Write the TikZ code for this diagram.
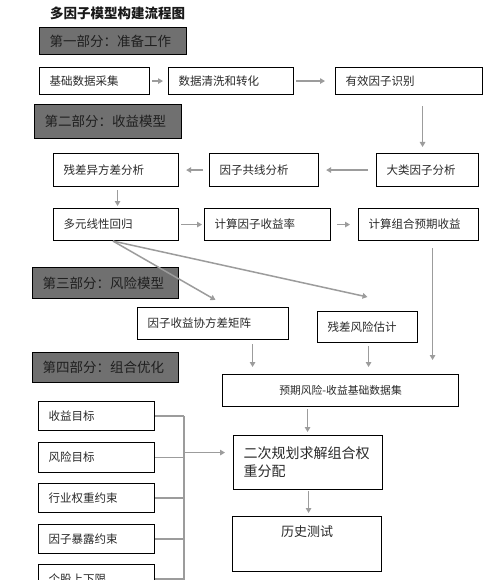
\documentclass[tikz,border=0pt]{standalone}
\usepackage{fontspec}
\newfontfamily\cjk{Noto Sans CJK SC}
\usetikzlibrary{arrows.meta,calc}
\definecolor{hdrfill}{HTML}{707070}
\definecolor{txt}{HTML}{2A2A2A}
\definecolor{arrgray}{HTML}{9C9C9C}
\newcommand\mybox[7]{%
  \pgfmathsetmacro\bw{#5-#3}\pgfmathsetmacro\bh{#6-#4}\pgfmathsetmacro\tw{#5-#3-20}%
  \node[#1, minimum width=\bw pt, minimum height=\bh pt, text width=\tw pt] (#2) at (#3,#4) {#7};}
\begin{document}
\begin{tikzpicture}[x=1pt,y=-1pt,
  base/.style={draw=black, line width=1.1pt, inner xsep=10pt, inner ysep=0pt, align=left, text=txt, anchor=north west},
  wbox/.style={base, fill=white, font=\cjk\fontsize{11.5}{14}\selectfont},
  hbox/.style={base, fill=hdrfill, text=black!88, font=\cjk\fontsize{13.5}{16}\selectfont},
  arr/.style={draw=arrgray, line width=1.5pt, -{Triangle[length=5pt,width=5.5pt]}},
  gline/.style={draw=arrgray, line width=1.2pt}]
\useasboundingbox (0,0) rectangle (500,580);
\clip (0,0) rectangle (500,580);
\fill[white] (0,0) rectangle (500,580);

\node[font=\cjk\bfseries\fontsize{13.5}{15}\selectfont, text=black!90, anchor=west, inner sep=0pt] (title) at (50,13) {多因子模型构建流程图};

\mybox{hbox}{s1}{39}{27}{186}{54}{第一部分：准备工作}
\mybox{wbox}{a1}{39}{67}{149}{94}{基础数据采集}
\mybox{wbox}{a2}{168}{67}{293}{94}{数据清洗和转化}
\mybox{wbox}{a3}{335}{67}{482}{94}{有效因子识别}

\mybox{hbox}{s2}{34}{104}{181}{138}{第二部分：收益模型}
\mybox{wbox}{b1}{53}{153}{178}{186}{残差异方差分析}
\mybox{wbox}{b2}{209}{153}{318}{186}{因子共线分析}
\mybox{wbox}{b3}{376}{153}{478}{186}{大类因子分析}
\mybox{wbox}{c1}{53}{208}{178}{240}{多元线性回归}
\mybox{wbox}{c2}{204}{208}{330}{240}{计算因子收益率}
\mybox{wbox}{c3}{358}{208}{478}{240}{计算组合预期收益}

\mybox{hbox}{s3}{32}{267}{178}{298}{第三部分：风险模型}
\mybox{wbox}{d1}{137}{307}{288}{339}{因子收益协方差矩阵}
\mybox{wbox}{d2}{317}{311}{417}{342}{残差风险估计}
\mybox{wbox,align=center,font=\cjk\fontsize{10.8}{13}\selectfont}{e}{222}{374}{458}{406}{预期风险-收益基础数据集}

\mybox{hbox}{s4}{32}{352}{178}{382}{第四部分：组合优化}
\mybox{wbox}{h1}{38}{401}{154}{430}{收益目标}
\mybox{wbox}{h2}{38}{442}{154}{472}{风险目标}
\mybox{wbox}{h3}{38}{483}{154}{512}{行业权重约束}
\mybox{wbox}{h4}{38}{524}{154}{553}{因子暴露约束}
\mybox{wbox}{h5}{38}{564}{154}{593}{个股上下限}

\mybox{wbox,font=\cjk\fontsize{14}{18}\selectfont}{f}{233}{435}{382}{489}{二次规划求解组合权\\重分配}
\mybox{wbox,align=center,inner ysep=8pt,text height=12pt,text depth=27pt,font=\cjk\fontsize{13}{16}\selectfont}{g}{232}{516}{381}{571}{历史测试}

% arrows
\draw[arr, shorten <=2pt, shorten >=5pt] (a1.east) -- (a2.west);
\draw[arr, shorten <=2pt, shorten >=10pt] (a2.east) -- (a3.west);
\draw[arr, shorten <=11pt, shorten >=6pt] ([xshift=13.5pt]a3.south) -- ([xshift=-5pt]b3.north);
\draw[arr, shorten <=8pt, shorten >=7pt] (b3.west) -- (b2.east);
\draw[arr, shorten <=6pt, shorten >=7pt] (b2.west) -- (b1.east);
\draw[arr, shorten <=3pt, shorten >=2pt] ([xshift=1.5pt]b1.south) -- ([xshift=1.5pt]c1.north);
\draw[arr, shorten <=2pt, shorten >=2pt] (c1.east) -- (c2.west);
\draw[arr, shorten <=6pt, shorten >=8pt] (c2.east) -- (c3.west);
\draw[arr] ([xshift=-3pt]c1.south) -- ([xshift=2.5pt,yshift=7pt]d1.north);
\draw[arr] ([xshift=-3pt]c1.south) -- ([yshift=14pt]d2.north);
\draw[arr, shorten <=4pt, shorten >=7pt] ([xshift=39.5pt]d1.south) -- ([xshift=-88pt]e.north);
\draw[arr, shorten <=3pt, shorten >=7pt] ([xshift=1pt]d2.south) -- ([xshift=28pt]e.north);
\draw[arr, shorten <=7pt, shorten >=14pt] ([xshift=14pt]c3.south) -- ([xshift=92pt]e.north);
\draw[arr, shorten <=2pt, shorten >=3pt] ([xshift=-33pt]e.south) -- ([xshift=-0.5pt]f.north);
\draw[arr, shorten <=1pt, shorten >=3pt] ([xshift=0.5pt]f.south) -- ([xshift=1.5pt]g.north);

% bracket
\coordinate (bus) at (184,415);
\draw[gline] (bus |- h1.east) -- (bus |- h5.south);
\foreach \n in {h1,h2,h3,h4,h5}{\draw[gline] (\n.east) -- (bus |- \n.east);}
\coordinate (fin) at ([yshift=10pt]f.west);
\draw[arr, shorten <=1pt, shorten >=8pt] (bus |- fin) -- (fin);
\end{tikzpicture}
\end{document}
